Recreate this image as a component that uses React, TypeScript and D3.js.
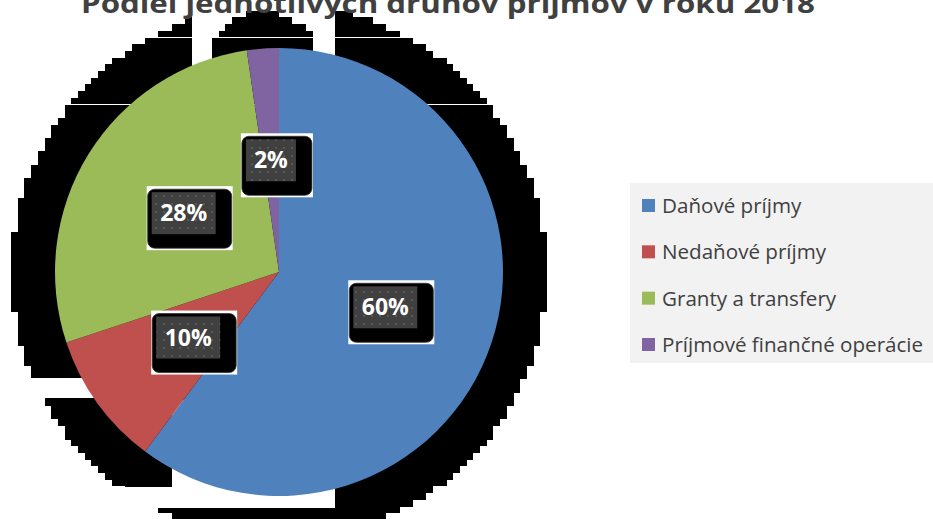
import React, { useMemo } from "react";
import * as d3 from "d3";

const title = "Podiel jednotlivých druhov príjmov v roku 2018";
const categories = [
  "Daňové príjmy",
  "Nedaňové príjmy",
  "Granty a transfery",
  "Príjmové finančné operácie",
];
const values = [60.2, 9.7, 27.8, 2.3];
const colors = ["#4f81bd", "#c0504d", "#9bbb59", "#8064a2"];

// decorative: gaps in the blocky drop shadow [x0, y0, x1, y1]
const shadowGaps = [
  [192, 0, 212, 120],
  [313, 0, 335, 120],
  [0, 378, 110, 398],
  [172, 400, 335, 508],
  [100, 487, 172, 508],
];

const W = 933;
const H = 519;
const CX = 279;
const CY = 272;
const R = 224;
const SHADOW_R = 268;
const CELL = 6.7;

function buildShadow() {
  const rects: { x: number; y: number; w: number; h: number }[] = [];
  const n = Math.ceil(SHADOW_R / CELL) + 1;
  for (let j = -n; j < n; j++) {
    const top = CY + j * CELL;
    const yc = top + CELL / 2;
    const y0 = Math.round(top);
    const y1 = Math.round(top + CELL);
    let runStart: number | null = null;
    for (let i = -n; i <= n; i++) {
      const left = CX + i * CELL;
      const xc = left + CELL / 2;
      let inside = Math.hypot(xc - CX, yc - CY) <= SHADOW_R && i < n;
      if (inside && xc > 212 && xc < 313 && yc < 100) {
        inside = Math.hypot(xc - 263, yc - 72) <= 60;
      }
      if (inside && runStart === null) runStart = Math.round(left);
      if (!inside && runStart !== null) {
        rects.push({ x: runStart, y: y0, w: Math.round(left) - runStart, h: y1 - y0 });
        runStart = null;
      }
    }
  }
  return rects;
}

export default function App() {
  const arcs = useMemo(
    () => d3.pie<number>().sort(null).startAngle(0).endAngle(2 * Math.PI).value((d) => d)(values),
    []
  );
  const arcGen = d3.arc<d3.PieArcDatum<number>>().innerRadius(0).outerRadius(R);
  const shadow = useMemo(buildShadow, []);
  const legendY = d3.scalePoint<string>().domain(categories).range([205.5, 344.5]);

  return (
    <svg
      width={W}
      height={H}
      style={{ position: "absolute", left: 0, top: 0, background: "#fff" }}
      fontFamily="'Open Sans', sans-serif"
    >
      <defs>
        <pattern id="dots" width="8" height="8" patternUnits="userSpaceOnUse">
          <rect width="8" height="8" fill="#404040" />
          <rect x="3" y="3" width="2" height="2" fill="#585858" />
        </pattern>
        <mask id="gapMask">
          <rect width={W} height={H} fill="#fff" />
          {shadowGaps.map((g, i) => (
            <rect key={i} x={g[0]} y={g[1]} width={g[2] - g[0]} height={g[3] - g[1]} fill="#000" />
          ))}
        </mask>
      </defs>
      <rect width={W} height={H} fill="#fff" />

      <g mask="url(#gapMask)" shapeRendering="crispEdges">
        {shadow.map((r, i) => (
          <rect key={i} x={r.x} y={r.y} width={r.w} height={r.h} fill="#000" />
        ))}
      </g>

      <g transform={`translate(${CX},${CY})`}>
        {arcs.map((a, i) => (
          <path key={i} d={arcGen(a) || ""} fill={colors[i]} />
        ))}
      </g>

      {arcs.map((a, i) => {
        const [lx, ly] = arcGen.centroid(a);
        const label = `${Math.round(a.data)}%`;
        const w = 14 * label.length + 22;
        const h = 42;
        const gx = CX + lx - w / 2;
        const gy = CY + ly - h / 2;
        return (
          <g key={i}>
            <rect x={gx - 5} y={gy - 6} width={w + 22} height={h + 22} fill="#fff" />
            <rect x={gx - 4} y={gy - 3} width={w + 20} height={h + 17} rx={7} fill="#000" stroke="#333" strokeWidth={0.8} />
            <rect x={gx} y={gy} width={w} height={h} fill="url(#dots)" />
            <text
              x={gx + w / 2}
              y={gy + h / 2 + 8}
              textAnchor="middle"
              fill="#fff"
              fontWeight={700}
              fontSize={23}
            >
              {label}
            </text>
          </g>
        );
      })}

      <g>
        <rect x={630} y={183} width={W - 630} height={180} fill="#f2f2f2" />
        {categories.map((c, i) => {
          const y = legendY(c) as number;
          return (
            <g key={c}>
              <rect x={642} y={y - 6.5} width={13} height={13} fill={colors[i]} />
              <text x={662} y={y + 7.5} fontSize={20.6} fill="#404040">
                {c}
              </text>
            </g>
          );
        })}
      </g>

      <text
        x={81}
        y={13}
        fontSize={27}
        fontWeight={700}
        fill="#404040"
        textLength={734}
        lengthAdjust="spacingAndGlyphs"
      >
        {title}
      </text>
    </svg>
  );
}
